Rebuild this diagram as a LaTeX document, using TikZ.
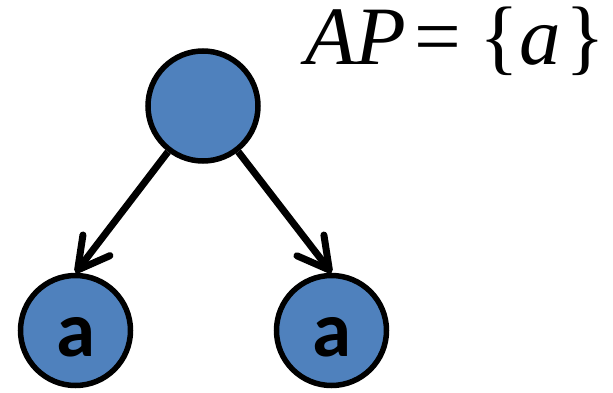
\documentclass[tikz,border=0pt]{standalone}
\usepackage{fontspec}
\setmainfont{Liberation Serif}
\newfontfamily\carlito{Carlito}
\newfontfamily\timesit{Liberation Serif Italic}
\usetikzlibrary{arrows.meta}
\definecolor{estadoazul}{RGB}{79,129,189}
\tikzset{
  estado/.style={circle, draw=black, line width=5.5pt, fill=estadoazul,
    minimum size=110pt, inner sep=0pt, font=\carlito\bfseries\fontsize{79}{90}\selectfont,
    text height=52pt, text depth=0pt},
  transicao/.style={line width=7pt, -{Straight Barb[length=31pt,width=34pt,round]}}
}
\begin{document}
\begin{tikzpicture}[x=1pt,y=1pt]
  \useasboundingbox (0,0) rectangle (613,392);
  % estados
  \node[estado] (s0) at (203,286) {};
  \node[estado] (s1) at (75.5,61.5) {a};
  \node[estado] (s2) at (331.5,61.5) {a};
  % transicoes
  \draw[transicao] (s0) -- (s1.north);
  \draw[transicao] (s0) -- (s2.north);
  % proposicoes atomicas
  \node[anchor=base west, inner sep=0pt, font=\fontsize{83}{90}\selectfont] (ap) at (305,327)
    {{\timesit AP}\hspace{0.1em}=\hspace{0.22em}\{{\timesit a}\hspace{0.05em}\}};
\end{tikzpicture}
\end{document}
